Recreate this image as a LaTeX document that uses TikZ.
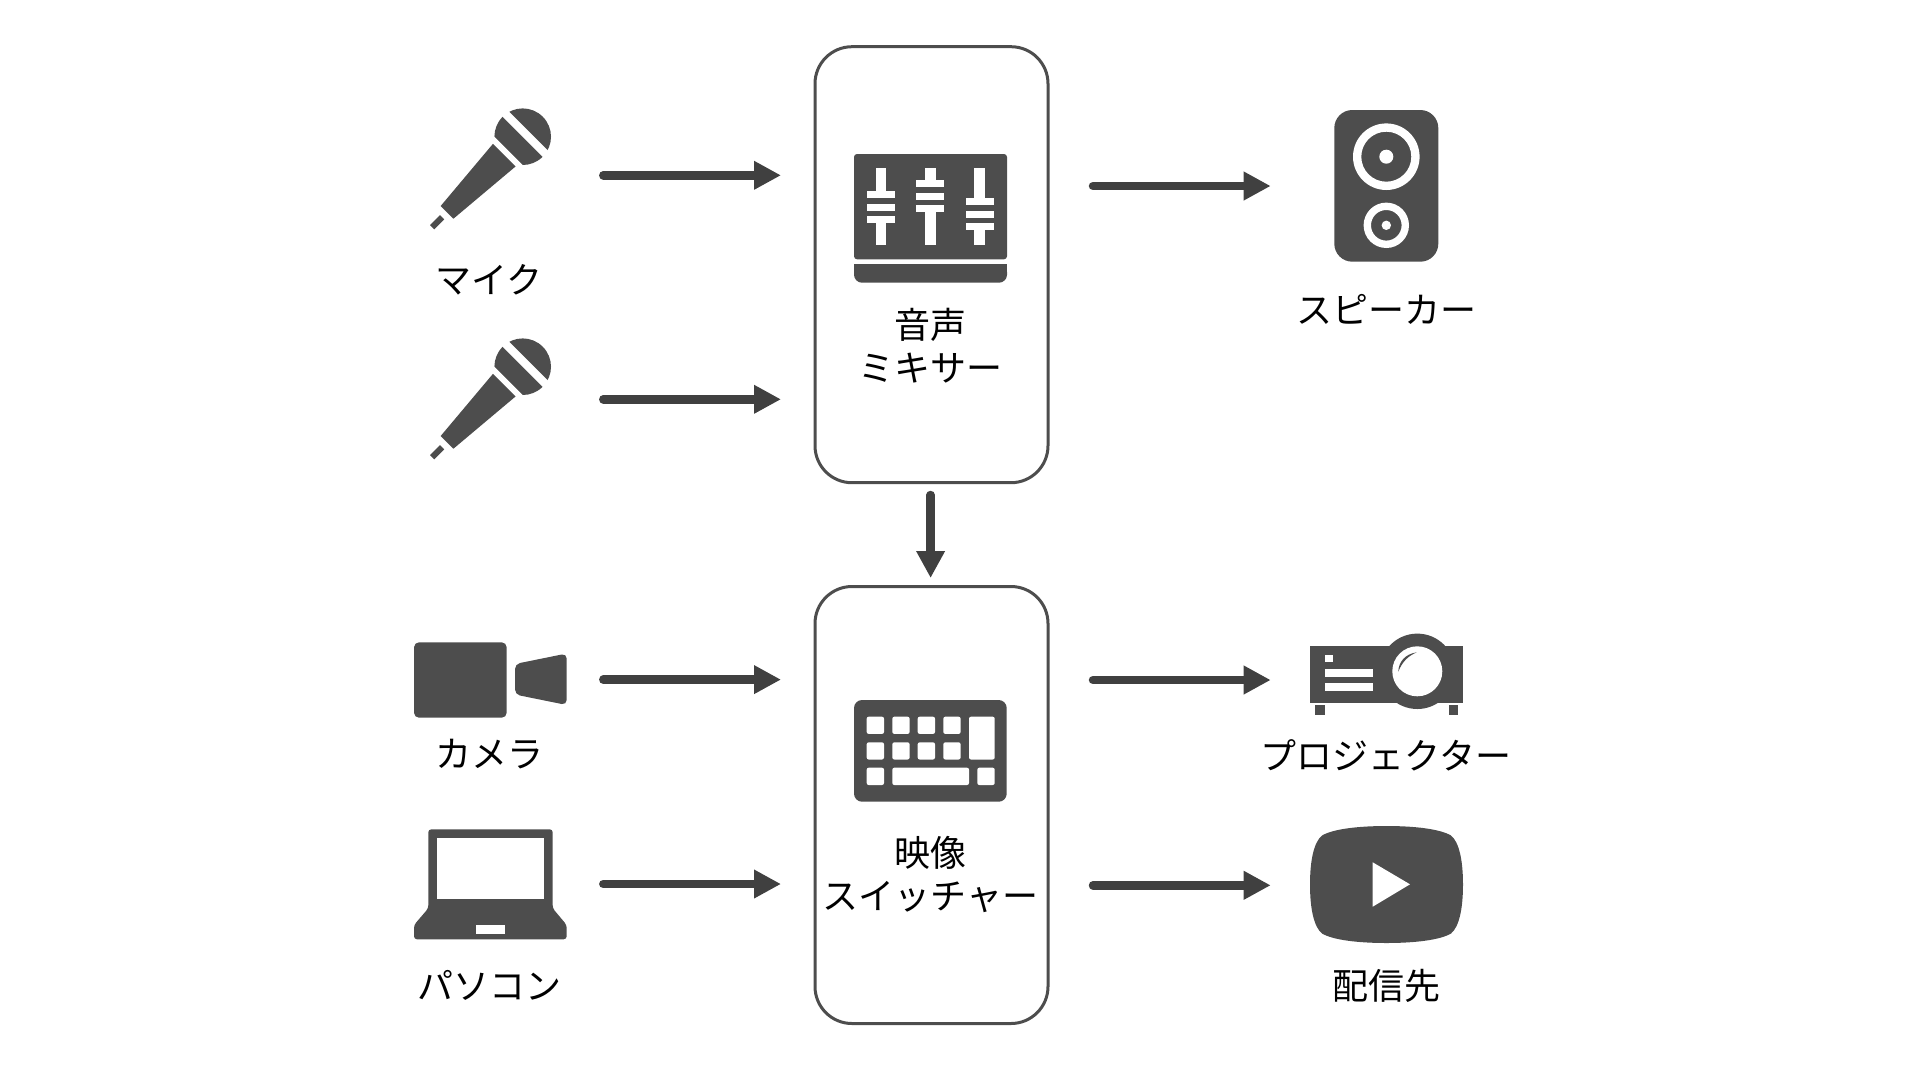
\documentclass[tikz,border=0pt]{standalone}
\usepackage{fontspec}
\setmainfont{Noto Sans CJK JP}
\usetikzlibrary{positioning,arrows.meta}
\definecolor{icongray}{HTML}{4D4D4D}
\definecolor{flowgray}{HTML}{404040}
\tikzset{
	devicebox/.style = {draw = icongray, line width = 3pt, rounded corners = 37pt, minimum width = 233pt, minimum height = 437pt, inner sep = 0pt},
	flow/.style = {draw = flowgray, fill = flowgray, line width = 8.5pt, line cap = round, -{Triangle[length = 27pt, width = 27pt]}},
	caption/.style = {font = \fontsize{36}{43}\selectfont, align = center, inner sep = 0pt, text = black},
	icon/.style = {fill = icongray},
	cutout/.style = {fill = white},
	micicon/.pic = {
		\fill [icongray] (0,0) circle (28.3pt);
		\fill [white] (-8,-30) rectangle (0,30);
		\fill [white] (20,-30) rectangle (30,30);
		\fill [icongray] (26,-16) -- (107,-9) -- (107,9) -- (26,16) -- cycle;
		\fill [icongray] (114,-3) rectangle (128,3);
	},
}
\begin{document}
\begin{tikzpicture}[x = 1pt, y = -1pt]
	\useasboundingbox (0,0) rectangle (1920,1080);

	\node (mixerbox) [devicebox, minimum height = 436pt] at (931.5,264.7) {};
	\node (switcherbox) [devicebox] at (931.5,805) {};

	\coordinate (mic1) at (522.7,136.7);
	\coordinate (mic2) at (522.7,366.7);
	\pic [rotate = 225] at (mic1) {micicon};
	\pic [rotate = 225] at (mic2) {micicon};

	\fill [icon, rounded corners = 3pt] (854,154) rectangle (1007,259.3);
	\fill [icon, rounded corners = 8pt] (854,264) -- (854,282.7) -- (1007,282.7) -- (1007,264) -- cycle;
	\fill [icongray] (854,264) rectangle (1007,272);
	\foreach \cx/\by in {881/191, 930.3/180, 979.7/198.3} {
		\fill [cutout] (\cx-5.3,168.3) rectangle (\cx+5.3,\by);
		\fill [cutout] (\cx-5.3,\by+32) rectangle (\cx+5.3,245);
		\foreach \dy in {0, 12.5, 25} {
			\fill [cutout] (\cx-14,\by+\dy) rectangle (\cx+14,\by+\dy+7);
		}
	}

	\fill [icon, rounded corners = 18pt] (1334.3,110) rectangle (1438.3,261.7);
	\fill [cutout, even odd rule] (1386.3,156.7) circle (33.3pt) circle (25pt) circle (7pt);
	\fill [cutout, even odd rule] (1386.3,225.3) circle (22.7pt) circle (15.3pt) circle (4.7pt);

	\fill [icon, rounded corners = 5pt] (414,642.3) rectangle (506.7,717.7);
	\fill [icon, rounded corners = 5pt] (515,664) -- (566.7,653.5) -- (566.7,705) -- (515,694.5) -- cycle;

	\fill [icon, rounded corners = 3pt] (428.3,829.3) -- (552.7,829.3) -- (552.7,908.3) -- (566.7,925) -- (566.7,939.3) -- (414,939.3) -- (414,925) -- (428.3,908.3) -- cycle;
	\fill [cutout] (436.7,838.3) rectangle (544.3,898.7);
	\fill [cutout] (476,925.3) rectangle (505,933.7);

	\fill [icon, rounded corners = 8pt] (854,700) rectangle (1006.7,801.7);
	\foreach \kx in {866.7, 892.3, 917.7, 943.3} {
		\foreach \ky in {716.7, 742.3} {
			\fill [cutout, rounded corners = 2pt] (\kx,\ky) rectangle (\kx+17.3,\ky+17.2);
		}
	}
	\fill [cutout, rounded corners = 2pt] (969,716.7) rectangle (994.7,759.5);
	\fill [cutout, rounded corners = 2pt] (866.7,767.7) rectangle (884,785);
	\fill [cutout, rounded corners = 2pt] (892.3,767.7) rectangle (969,785);
	\fill [cutout, rounded corners = 2pt] (977.3,767.7) rectangle (994.7,785);

	\fill [icon] (1310,645.7) rectangle (1463,703.3);
	\fill [icon] (1417.3,671.3) circle (37.7pt);
	\fill [icon] (1315,705.3) rectangle (1324.7,715);
	\fill [icon] (1448.7,705.3) rectangle (1458.3,715);
	\fill [cutout] (1417.3,671.3) circle (25pt);
	\fill [cutout] (1325,654.7) rectangle (1332.7,662.3);
	\fill [cutout] (1325,669.3) rectangle (1373,676.7);
	\fill [cutout] (1325,683.3) rectangle (1373,690.7);
	\fill [icon] (1398.3,671.7) .. controls (1398.5,662) and (1405,654) .. (1416.7,652.3) .. controls (1408,656) and (1402,662) .. (1398.3,671.7) -- cycle;

	\fill [icon] (1386.5,826) .. controls (1415,826) and (1440,829) .. (1451,835.5) .. controls (1459,842) and (1463,860) .. (1463,884.5) .. controls (1463,909) and (1459,927) .. (1451,933.5) .. controls (1440,940) and (1415,943) .. (1386.5,943) .. controls (1358,943) and (1333,940) .. (1322,933.5) .. controls (1314,927) and (1310,909) .. (1310,884.5) .. controls (1310,860) and (1314,842) .. (1322,835.5) .. controls (1333,829) and (1358,826) .. (1386.5,826) -- cycle;
	\fill [cutout] (1372.7,862.3) -- (1410,884.3) -- (1372.7,906.7) -- cycle;

	\node (miclabel) [caption] at (489,280) {マイク};
	\node (speakerlabel) [caption] at (1386.5,309) {スピーカー};
	\node (mixerlabel) [caption] at (930.6,345.2) {音声\\ミキサー};
	\node (cameralabel) [caption] at (489.3,754) {カメラ};
	\node (pclabel) [caption] at (489.3,985) {パソコン};
	\node (switcherlabel) [caption] at (930.6,875) {映像\\スイッチャー};
	\node (projectorlabel) [caption] at (1386,755.5) {プロジェクター};
	\node (streamlabel) [caption] at (1386,985.7) {配信先};

	\coordinate (a1) at (603.3,175.3);
	\coordinate [right = 177.7pt of a1] (a2);
	\coordinate (b1) at (603.3,399.3);
	\coordinate [right = 177.7pt of b1] (b2);
	\coordinate (c1) at (603.3,679.6);
	\coordinate [right = 177.7pt of c1] (c2);
	\coordinate (d1) at (603.3,884);
	\coordinate [right = 177.7pt of d1] (d2);
	\coordinate (e1) at (1093,186);
	\coordinate [right = 177.7pt of e1] (e2);
	\coordinate (f1) at (1093,680);
	\coordinate [right = 177.7pt of f1] (f2);
	\coordinate (g1) at (1093,885.3);
	\coordinate [right = 177.7pt of g1] (g2);
	\coordinate (h1) at (930.6,495);
	\coordinate [below = 83pt of h1] (h2);

	\draw [flow] (a1) -- (a2);
	\draw [flow] (b1) -- (b2);
	\draw [flow] (c1) -- (c2);
	\draw [flow] (d1) -- (d2);
	\draw [flow] (e1) -- (e2);
	\draw [flow] (f1) -- (f2);
	\draw [flow] (g1) -- (g2);
	\draw [flow] (h1) -- (h2);
\end{tikzpicture}
\end{document}
